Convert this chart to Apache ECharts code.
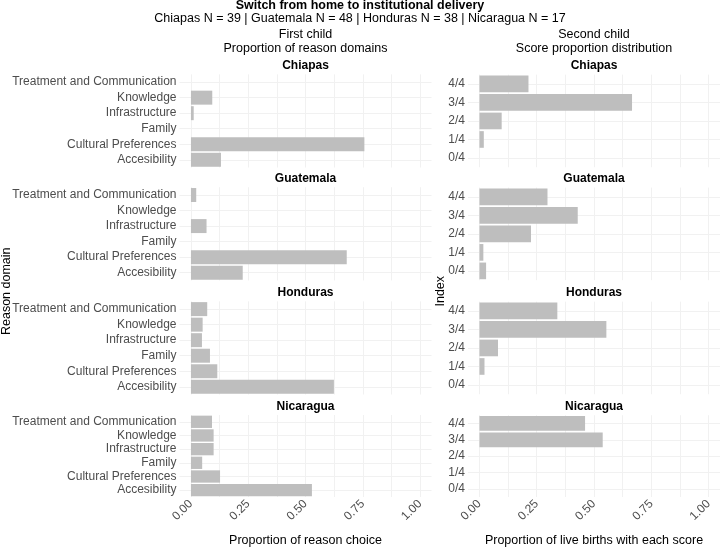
<!DOCTYPE html>
<html>
<head>
<meta charset="utf-8">
<script src="https://cdn.jsdelivr.net/npm/echarts@6/dist/echarts.min.js"></script>
<style>
  html, body { margin: 0; padding: 0; background: #fff; }
  #chart { width: 720px; height: 548px; }
</style>
</head>
<body>
<div id="chart"></div>
<script>
// data
const countries = ['Chiapas', 'Guatemala', 'Honduras', 'Nicaragua'];
const sampleSizes = [39, 48, 38, 17];
const reasonDomains = ['Treatment and Communication', 'Knowledge', 'Infrastructure', 'Family', 'Cultural Preferences', 'Accesibility'];
const scoreLevels = ['4/4', '3/4', '2/4', '1/4', '0/4'];
const xTicks = [0, 0.25, 0.5, 0.75, 1];
const xMinorTicks = [0, 0.125, 0.25, 0.375, 0.5, 0.625, 0.75, 0.875, 1];

// first child: proportion of reason domains (order = reasonDomains)
const reasonChiapas = [0, 0.093, 0.012, 0, 0.757, 0.131];
const reasonGuatemala = [0.023, 0, 0.068, 0, 0.680, 0.226];
const reasonHonduras = [0.071, 0.051, 0.048, 0.083, 0.115, 0.624];
const reasonNicaragua = [0.092, 0.099, 0.099, 0.049, 0.127, 0.528];

// second child: score proportion distribution (order = scoreLevels)
const scoreChiapas = [0.214, 0.666, 0.097, 0.019, 0];
const scoreGuatemala = [0.297, 0.429, 0.225, 0.017, 0.029];
const scoreHonduras = [0.340, 0.554, 0.081, 0.022, 0];
const scoreNicaragua = [0.461, 0.538, 0, 0, 0];

const reasonData = [reasonChiapas, reasonGuatemala, reasonHonduras, reasonNicaragua];
const scoreData = [scoreChiapas, scoreGuatemala, scoreHonduras, scoreNicaragua];

// layout (ggplot-like panels)
const panelTops = [72.8, 185.7, 299.8, 413.4];
const panelH = 96.3;
const leftX = 179.5, rightX = 468, panelW = 252;
const font = '"Liberation Sans", Arial, sans-serif';
const gridColor = '#f1f1f1';
const axisTextColor = '#4d4d4d';

const chart = echarts.init(document.getElementById('chart'), null, { renderer: 'canvas' });

const grids = [], xAxes = [], yAxes = [], series = [], texts = [];

function addPanel(x, top, cats, values, showX, xName) {
  const n = cats.length;
  const u = panelH / (n + 0.2);
  const idx = grids.length;
  grids.push({ left: x, top: top + 0.1 * u, width: panelW, height: n * u, containLabel: false });
  xAxes.push({
    type: 'value', gridIndex: idx, min: -0.05, max: 1.05,
    axisLine: { show: false },
    axisTick: { show: false, customValues: xMinorTicks },
    axisLabel: {
      show: showX, customValues: xTicks, rotate: 45, margin: 5,
      color: axisTextColor, fontSize: 12, fontFamily: font,
      formatter: v => v.toFixed(2)
    },
    splitLine: { show: true, lineStyle: { color: gridColor, width: 1 } },
    name: showX ? xName : '', nameLocation: 'middle', nameGap: 37,
    nameTextStyle: { color: '#000', fontSize: 12.5, fontFamily: font }
  });
  yAxes.push({
    type: 'category', gridIndex: idx, data: cats, inverse: true,
    axisLine: { show: false }, axisTick: { show: false },
    axisLabel: { interval: 0, margin: 3, color: axisTextColor, fontSize: 12, fontFamily: font },
    splitLine: { show: true, interval: 0, alignWithLabel: true, lineStyle: { color: gridColor, width: 1 } }
  });
  series.push({
    type: 'bar', xAxisIndex: idx, yAxisIndex: idx, data: values,
    barCategoryGap: '10%', silent: true,
    itemStyle: { color: '#bebebe' }
  });
}

countries.forEach((c, i) => {
  addPanel(leftX, panelTops[i], reasonDomains, reasonData[i], i === 3, 'Proportion of reason choice');
  addPanel(rightX, panelTops[i], scoreLevels, scoreData[i], i === 3, 'Proportion of live births with each score');
  texts.push({ x: leftX + panelW / 2, y: panelTops[i] - 7, text: c, bold: true, size: 12 });
  texts.push({ x: rightX + panelW / 2, y: panelTops[i] - 7, text: c, bold: true, size: 12 });
});

texts.push({ x: 360, y: 6, text: 'Switch from home to institutional delivery', bold: true, size: 12.5 });
texts.push({ x: 360, y: 19,
  text: countries.map((c, i) => c + ' N = ' + sampleSizes[i]).join(' | '), size: 12.5 });
texts.push({ x: leftX + panelW / 2, y: 35, text: 'First child', size: 12.5 });
texts.push({ x: leftX + panelW / 2, y: 48.5, text: 'Proportion of reason domains', size: 12.5 });
texts.push({ x: rightX + panelW / 2, y: 35, text: 'Second child', size: 12.5 });
texts.push({ x: rightX + panelW / 2, y: 48.5, text: 'Score proportion distribution', size: 12.5 });

const midY = (panelTops[0] + panelTops[3] + panelH) / 2;
const graphics = texts.map(t => ({
  type: 'text', silent: true,
  style: {
    x: t.x, y: t.y, text: t.text, fill: '#000',
    font: (t.bold ? 'bold ' : '') + t.size + 'px ' + font,
    textAlign: 'center', textVerticalAlign: 'middle'
  }
}));
graphics.push({
  type: 'text', silent: true, x: 7, y: midY, rotation: Math.PI / 2,
  style: { x: 0, y: 0, text: 'Reason domain', fill: '#000', font: '12.5px ' + font, textAlign: 'center', textVerticalAlign: 'middle' }
});
graphics.push({
  type: 'text', silent: true, x: 441, y: midY, rotation: Math.PI / 2,
  style: { x: 0, y: 0, text: 'Index', fill: '#000', font: '12.5px ' + font, textAlign: 'center', textVerticalAlign: 'middle' }
});

chart.setOption({
  animation: false,
  backgroundColor: '#fff',
  grid: grids,
  xAxis: xAxes,
  yAxis: yAxes,
  series: series,
  graphic: graphics
});
</script>
</body>
</html>
